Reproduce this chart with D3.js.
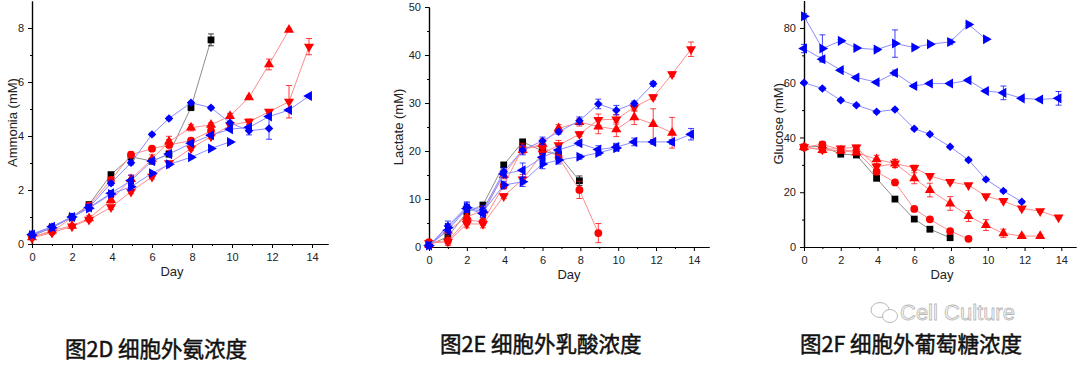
<!DOCTYPE html>
<html>
<head>
<meta charset="utf-8">
<script src="https://cdn.jsdelivr.net/npm/d3@7"></script>
<style>
  body { margin: 0; background: #fff; }
  svg { display: block; }
  .tick text { font-family: "Liberation Sans", Arial, sans-serif; font-size: 11px; fill: #222; }
  .axis-title { font-family: "Liberation Sans", Arial, sans-serif; font-size: 13px; fill: #222; }
  .caption { font-family: "Noto Sans CJK SC", sans-serif; font-size: 21.5px; fill: #111; stroke: #111; stroke-width: 0.5px; }
</style>
</head>
<body>
<div class="chart"></div>
<script>
// sampling days (shared by all three panels)
var days = [0, 1, 2, 2.85, 3.95, 4.95, 6, 6.85, 7.95, 8.95, 9.9, 10.85, 11.85, 12.85, 13.85];
var xTicks = [0, 2, 4, 6, 8, 10, 12, 14];

// 2D ammonia (mM)
var ammoniaSquare = [0.3, 0.6, 1.0, 1.46, 2.57, 3.23, 3.07, 3.33, 5.06, 7.56];
var ammoniaSquareErr = [0.03, 0.05, 0.05, 0.08, 0.06, 0.08, 0.1, 0.1, 0.12, 0.22];
var ammoniaCircle = [0.28, 0.45, 0.98, 1.42, 2.37, 3.31, 3.53, 3.67, 3.83, 4.19];
var ammoniaCircleErr = [0.03, 0.05, 0.05, 0.05, 0.1, 0.1, 0.08, 0.2, 0.1, 0.1];
var ammoniaUp = [0.25, 0.5, 0.67, 0.95, 1.63, 2.4, 3.15, 3.79, 4.31, 4.41, 4.74, 5.43, 6.65, 7.93];
var ammoniaUpErr = [0.03, 0.05, 0.05, 0.1, 0.12, 0.15, 0.15, 0.2, 0.12, 0.08, 0.1, 0.05, 0.2, 0.05];
var ammoniaDown = [0.22, 0.42, 0.65, 0.9, 1.36, 1.94, 2.49, 2.99, 3.54, 3.98, 4.4, 4.53, 4.9, 5.27, 7.31];
var ammoniaDownErr = [0.03, 0.05, 0.05, 0.08, 0.08, 0.08, 0.08, 0.08, 0.08, 0.08, 0.08, 0.1, 0.08, 0.6, 0.3];
var ammoniaDiamond = [0.37, 0.64, 1.01, 1.35, 2.25, 3.01, 4.06, 4.65, 5.23, 5.05, 4.49, 4.19, 4.28];
var ammoniaDiamondErr = [0.05, 0.05, 0.05, 0.05, 0.08, 0.08, 0.05, 0.05, 0.05, 0.05, 0.05, 0.15, 0.4];
var ammoniaLeft = [0.35, 0.64, 1.0, 1.35, 1.88, 2.35, 3.07, 3.33, 3.73, 4.03, 4.25, 4.32, 4.72, 4.96, 5.48];
var ammoniaLeftErr = [0.05, 0.05, 0.05, 0.05, 0.05, 0.2, 0.08, 0.05, 0.05, 0.05, 0.05, 0.05, 0.05, 0.05, 0.05];
var ammoniaRight = [0.33, 0.6, 1.0, 1.32, 1.85, 2.12, 2.62, 2.95, 3.21, 3.54, 3.78];
var ammoniaRightErr = [0.05, 0.05, 0.05, 0.05, 0.05, 0.12, 0.05, 0.05, 0.05, 0.05, 0.05];

// 2E lactate (mM)
var lactateSquare = [0.5, 2.1, 7.3, 8.75, 17.1, 21.9, 20.0, 19.2, 13.8];
var lactateSquareErr = [0.3, 0.8, 0.5, 0.5, 0.5, 0.5, 0.8, 0.8, 1.0];
var lactateCircle = [1.0, 1.3, 5.6, 5.3, 12.8, 20.6, 21.0, 18.7, 11.9, 2.9];
var lactateCircleErr = [0.3, 1.0, 1.0, 0.8, 0.5, 1.0, 1.0, 1.0, 1.8, 2.0];
var lactateUp = [0.5, 3.4, 6.3, 7.6, 15.0, 20.2, 21.5, 24.7, 26.0, 25.1, 24.5, 27.0, 25.6, 23.8];
var lactateUpErr = [0.3, 0.5, 0.8, 0.8, 0.8, 0.8, 1.0, 0.8, 0.8, 1.5, 1.5, 1.5, 3.2, 3.2];
var lactateDown = [0.8, 1.1, 4.8, 4.8, 10.6, 14.1, 19.5, 21.2, 23.5, 26.5, 26.6, 29.1, 31.2, 36.0, 41.2];
var lactateDownErr = [0.3, 0.5, 0.8, 0.8, 0.5, 1.0, 1.0, 1.0, 0.5, 1.2, 1.0, 0.8, 0.5, 0.5, 1.5];
var lactateDiamond = [0.3, 4.4, 8.4, 7.7, 15.7, 20.2, 22.1, 24.0, 26.3, 29.8, 28.5, 29.9, 34.0];
var lactateDiamondErr = [0.3, 1.0, 1.0, 1.0, 0.8, 1.0, 0.8, 0.5, 0.8, 1.0, 1.0, 0.5, 0.5];
var lactateLeft = [0.3, 3.5, 8.0, 7.0, 15.2, 16.0, 18.7, 20.2, 21.6, 20.3, 20.8, 21.9, 21.9, 21.9, 23.5];
var lactateLeftErr = [0.3, 0.8, 0.8, 0.8, 0.8, 1.5, 0.8, 0.8, 0.5, 0.8, 0.8, 0.8, 0.5, 0.5, 1.2];
var lactateRight = [0.3, 4.0, 8.2, 7.3, 12.9, 13.6, 17.3, 18.1, 18.8, 19.6, 20.6];
var lactateRightErr = [0.3, 0.8, 1.0, 0.8, 0.8, 1.0, 1.0, 0.8, 0.5, 0.5, 0.5];

// 2F glucose (mM)
var glucoseSquare = [36.5, 36.8, 33.9, 33.6, 25.1, 17.5, 10.2, 6.5, 3.4];
var glucoseSquareErr = [0.5, 0.8, 0.5, 0.5, 0.5, 0.5, 0.5, 0.5, 0.5];
var glucoseCircle = [36.5, 37.5, 35.5, 35.0, 27.5, 23.6, 13.9, 10.1, 5.8, 3.0];
var glucoseCircleErr = [0.5, 1.0, 0.8, 0.8, 0.8, 0.5, 0.5, 0.5, 0.5, 0.5];
var glucoseUp = [36.5, 35.4, 35.2, 34.5, 32.0, 30.5, 25.1, 20.8, 15.9, 11.3, 8.0, 5.0, 4.0, 4.0];
var glucoseUpErr = [0.5, 1.0, 1.0, 0.8, 1.5, 1.5, 2.0, 2.5, 2.5, 2.0, 2.0, 1.5, 0.5, 0.5];
var glucoseDown = [36.5, 35.6, 36.0, 36.4, 29.3, 30.5, 28.9, 26.0, 23.8, 22.6, 18.6, 16.8, 14.1, 13.1, 10.8];
var glucoseDownErr = [0.5, 1.0, 0.8, 0.8, 1.0, 1.5, 1.0, 0.8, 0.5, 0.5, 0.5, 0.5, 0.5, 0.5, 0.5];
var glucoseDiamond = [60.0, 57.9, 53.6, 51.8, 49.4, 50.2, 43.2, 41.2, 36.6, 31.8, 24.7, 20.5, 16.5];
var glucoseDiamondErr = [0.5, 0.5, 0.5, 0.5, 0.5, 0.5, 0.5, 0.5, 0.5, 0.5, 0.5, 0.5, 0.5];
var glucoseLeft = [72.5, 68.6, 64.6, 61.9, 60.2, 63.6, 58.8, 59.7, 59.7, 60.9, 57.0, 56.3, 54.3, 53.9, 54.3];
var glucoseLeftErr = [1.5, 0.8, 0.5, 0.5, 0.5, 1.0, 0.5, 0.5, 0.5, 0.5, 0.5, 2.5, 0.5, 0.5, 2.5];
var glucoseRight = [84.3, 72.5, 75.3, 72.7, 72.1, 74.3, 72.9, 74.1, 74.9, 81.3, 75.9];
var glucoseRightErr = [1.0, 5.0, 0.5, 0.5, 0.5, 5.0, 0.5, 0.5, 1.0, 0.5, 0.5];

// marker styles, in drawing order
var styles = [
  {shape: 'square',  fill: '#000000', line: '#8c8c8c'},
  {shape: 'circle',  fill: '#ff0000', line: '#ff8c8c'},
  {shape: 'up',      fill: '#ff0000', line: '#ff8c8c'},
  {shape: 'down',    fill: '#ff0000', line: '#ff8c8c'},
  {shape: 'diamond', fill: '#0000ff', line: '#8c8cff'},
  {shape: 'left',    fill: '#0000ff', line: '#8c8cff'},
  {shape: 'right',   fill: '#0000ff', line: '#8c8cff'}
];

var width = 1080, height = 374;
var svg = d3.select('.chart').append('svg')
  .attr('width', width)
  .attr('height', height);

function markerPath(shape) {
  var sym = d3.symbol();
  if (shape == 'square') return sym.type(d3.symbolSquare).size(46)();
  if (shape == 'circle') return sym.type(d3.symbolCircle).size(48)();
  if (shape == 'diamond') return sym.type(d3.symbolSquare).size(36)();
  return sym.type(d3.symbolTriangle).size(44)();
}
function markerRotation(shape) {
  return {diamond: 45, down: 180, left: -90, right: 90}[shape] || 0;
}

function drawPanel(p) {
  var g = svg.append('g').attr('class', 'panel');

  var x = d3.scaleLinear().domain([0, 14.8]).range([p.left, p.right]);
  var y = d3.scaleLinear().domain([0, p.yMax]).range([p.bottom, p.top]);

  // axes: major ticks with labels, then minor ticks
  g.append('g')
    .attr('transform', 'translate(0,' + p.bottom + ')')
    .call(d3.axisBottom(x).tickValues(xTicks).tickSize(4).tickSizeOuter(0).tickPadding(5));
  g.append('g')
    .attr('transform', 'translate(0,' + p.bottom + ')')
    .call(d3.axisBottom(x).tickValues(d3.range(1, 15, 2)).tickSize(2).tickSizeOuter(0).tickFormat(''));
  g.append('g')
    .attr('transform', 'translate(' + p.left + ',0)')
    .call(d3.axisLeft(y).tickValues(p.yTicks).tickSize(4).tickSizeOuter(0).tickPadding(4));
  g.append('g')
    .attr('transform', 'translate(' + p.left + ',0)')
    .call(d3.axisLeft(y).tickValues(p.yMinor).tickSize(2).tickSizeOuter(0).tickFormat(''));
  g.selectAll('.domain').attr('stroke', '#000').attr('stroke-width', 1.2);
  g.selectAll('.tick line').attr('stroke', '#000');

  g.append('text')
    .attr('class', 'axis-title')
    .attr('x', p.dayX)
    .attr('y', p.bottom + 32)
    .attr('text-anchor', 'middle')
    .text('Day');
  g.append('text')
    .attr('class', 'axis-title')
    .attr('transform', 'translate(' + p.titleX + ',' + (p.top + p.bottom) / 2 + ') rotate(-90)')
    .attr('text-anchor', 'middle')
    .attr('dy', '0.35em')
    .text(p.title);

  p.series.forEach(function(s, i) {
    var st = styles[i];
    var pts = s.values.map(function(v, j) { return {d: days[j], v: v, e: s.err[j]}; });

    var line = d3.line()
      .x(function(e) { return x(e.d); })
      .y(function(e) { return y(e.v); });
    g.append('path')
      .datum(pts)
      .attr('d', line)
      .attr('fill', 'none')
      .attr('stroke', st.line)
      .attr('stroke-width', 1);

    // error bars
    var eb = g.append('g').selectAll('g').data(pts).enter().append('g')
      .attr('stroke', st.fill)
      .attr('stroke-opacity', 0.75)
      .attr('stroke-width', 1);
    eb.append('line')
      .attr('x1', function(e) { return x(e.d); })
      .attr('x2', function(e) { return x(e.d); })
      .attr('y1', function(e) { return y(e.v - e.e); })
      .attr('y2', function(e) { return y(e.v + e.e); });
    [-1, 1].forEach(function(sign) {
      eb.append('line')
        .attr('x1', function(e) { return x(e.d) - 3; })
        .attr('x2', function(e) { return x(e.d) + 3; })
        .attr('y1', function(e) { return y(e.v + sign * e.e); })
        .attr('y2', function(e) { return y(e.v + sign * e.e); });
    });

    g.append('g').selectAll('path').data(pts).enter().append('path')
      .attr('d', markerPath(st.shape))
      .attr('transform', function(e) {
        return 'translate(' + x(e.d) + ',' + y(e.v) + ') rotate(' + markerRotation(st.shape) + ')';
      })
      .attr('fill', st.fill);
  });

  svg.append('text')
    .attr('class', 'caption')
    .attr('x', p.captionX)
    .attr('y', p.captionY)
    .text(p.caption);
}

drawPanel({
  left: 32, right: 328, top: 1, bottom: 244, yMax: 9,
  yTicks: [0, 2, 4, 6, 8], yMinor: [1, 3, 5, 7],
  title: 'Ammonia (mM)', titleX: 12, dayX: 172,
  caption: '图2D 细胞外氨浓度', captionX: 65, captionY: 357,
  series: [
    {values: ammoniaSquare, err: ammoniaSquareErr},
    {values: ammoniaCircle, err: ammoniaCircleErr},
    {values: ammoniaUp, err: ammoniaUpErr},
    {values: ammoniaDown, err: ammoniaDownErr},
    {values: ammoniaDiamond, err: ammoniaDiamondErr},
    {values: ammoniaLeft, err: ammoniaLeftErr},
    {values: ammoniaRight, err: ammoniaRightErr}
  ]
});

drawPanel({
  left: 429, right: 709, top: 7, bottom: 247, yMax: 50,
  yTicks: [0, 10, 20, 30, 40, 50], yMinor: [5, 15, 25, 35, 45],
  title: 'Lactate (mM)', titleX: 398, dayX: 569,
  caption: '图2E 细胞外乳酸浓度', captionX: 440, captionY: 352,
  series: [
    {values: lactateSquare, err: lactateSquareErr},
    {values: lactateCircle, err: lactateCircleErr},
    {values: lactateUp, err: lactateUpErr},
    {values: lactateDown, err: lactateDownErr},
    {values: lactateDiamond, err: lactateDiamondErr},
    {values: lactateLeft, err: lactateLeftErr},
    {values: lactateRight, err: lactateRightErr}
  ]
});

drawPanel({
  left: 804, right: 1076, top: 0.6, bottom: 247, yMax: 90,
  yTicks: [0, 20, 40, 60, 80], yMinor: [10, 30, 50, 70],
  title: 'Glucose (mM)', titleX: 778, dayX: 942,
  caption: '图2F 细胞外葡萄糖浓度', captionX: 800, captionY: 352,
  series: [
    {values: glucoseSquare, err: glucoseSquareErr},
    {values: glucoseCircle, err: glucoseCircleErr},
    {values: glucoseUp, err: glucoseUpErr},
    {values: glucoseDown, err: glucoseDownErr},
    {values: glucoseDiamond, err: glucoseDiamondErr},
    {values: glucoseLeft, err: glucoseLeftErr},
    {values: glucoseRight, err: glucoseRightErr}
  ]
});

// faint watermark, bottom right (kept just above the caption)
var wm = svg.append('g').attr('fill', 'none').attr('stroke', '#b8b8b8').attr('stroke-width', 1);
wm.append('ellipse').attr('cx', 880).attr('cy', 310).attr('rx', 9).attr('ry', 7.5);
wm.append('ellipse').attr('cx', 890).attr('cy', 316).attr('rx', 7.5).attr('ry', 6.5).attr('fill', '#fff');
svg.append('text')
  .attr('x', 900)
  .attr('y', 320)
  .attr('font-family', '"Liberation Sans", Arial, sans-serif')
  .attr('font-size', 22)
  .attr('fill', '#fafafa')
  .attr('stroke', '#b8b8b8')
  .attr('stroke-width', 0.8)
  .text('Cell Culture');
</script>
</body>
</html>
